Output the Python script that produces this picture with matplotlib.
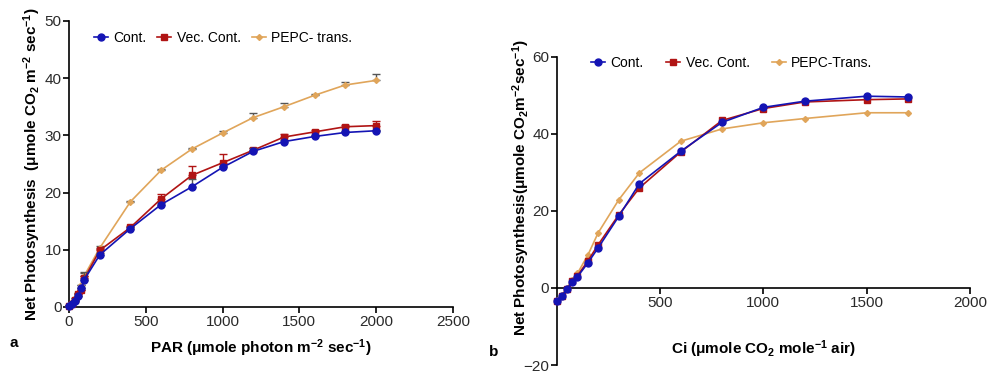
import matplotlib
matplotlib.use('Agg')
import matplotlib.pyplot as plt

plt.rcParams['font.family'] = ['Liberation Sans', 'DejaVu Sans']
plt.rcParams['mathtext.fontset'] = 'custom'
plt.rcParams['mathtext.rm'] = 'Liberation Sans'
plt.rcParams['mathtext.bf'] = 'Liberation Sans:bold'
plt.rcParams['mathtext.default'] = 'bf'

# Panel a: light response (PAR)
par = [0, 20, 40, 60, 80, 100, 200, 400, 600, 800, 1000, 1200, 1400, 1600, 1800, 2000]
a_cont = [0.2, 0.5, 1.0, 2.0, 3.3, 4.8, 9.1, 13.7, 17.9, 21.0, 24.4, 27.2, 28.9, 29.8, 30.5, 30.8]
a_vec = [0.2, 0.6, 1.2, 2.3, 3.0, 5.0, 9.9, 13.9, 18.9, 23.0, 25.2, 27.4, 29.7, 30.6, 31.5, 31.7]
a_pepc = [0.3, 0.8, 1.5, 2.5, 3.8, 5.5, 10.3, 18.4, 23.9, 27.6, 30.4, 33.1, 35.0, 37.0, 38.8, 39.6]
a_cont_err = [0, 0, 0, 0, 0, 1.3, 0.3, 0.2, 0.3, 1.4, 0.3, 0.6, 0.3, 0.2, 0.2, 0.2]
a_vec_err = [0, 0, 0, 0, 0, 0.4, 0.3, 0.3, 0.9, 1.6, 1.5, 0.4, 0.6, 0.4, 0.3, 0.8]
a_pepc_err = [0, 0, 0, 0, 0, 0.5, 0.3, 0.2, 0.2, 0.2, 0.4, 0.8, 0.6, 0.2, 0.5, 1.2]

# Panel b: CO2 response (Ci)
ci = [0, 25, 50, 75, 100, 150, 200, 300, 400, 600, 800, 1000, 1200, 1500, 1700]
b_cont = [-3.5, -2.0, -0.3, 1.5, 2.9, 6.5, 10.4, 18.6, 27.1, 35.5, 43.0, 46.9, 48.5, 49.8, 49.6]
b_vec = [-3.5, -2.0, -0.2, 1.8, 3.2, 7.0, 11.2, 19.0, 26.0, 35.3, 43.5, 46.6, 48.3, 48.9, 49.1]
b_pepc = [-3.0, -1.8, 0.0, 2.0, 3.8, 8.5, 14.3, 22.9, 29.9, 38.1, 41.3, 42.9, 44.0, 45.5, 45.5]

blue = '#1414b4'
red = '#b01414'
tan = '#e0a55a'
tick_col = '#2a2a2a'

fig = plt.figure(figsize=(9.89, 3.73), dpi=100)
ax1 = fig.add_axes([0.0698, 0.177, 0.388, 0.767])
ax2 = fig.add_axes([0.563, 0.0214, 0.4176, 0.826])


def style(ax):
    for s in ['top', 'right']:
        ax.spines[s].set_visible(False)
    for s in ['left', 'bottom']:
        ax.spines[s].set_linewidth(1.2)
    ax.tick_params(width=1.2, length=4, pad=1.5, labelsize=11, labelcolor=tick_col)


# panel a
ax1.errorbar(par, a_pepc, yerr=[[0] * len(a_pepc_err), a_pepc_err], color=tan, ecolor='#555555',
             marker='D', ms=3, lw=1.2, capsize=3, elinewidth=1, label='PEPC- trans.', clip_on=False, zorder=3)
ax1.errorbar(par, a_vec, yerr=[[0] * len(a_vec_err), a_vec_err], color=red, ecolor=red,
             marker='s', ms=5, lw=1.2, capsize=3, elinewidth=1, label='Vec. Cont.', clip_on=False, zorder=4)
ax1.errorbar(par, a_cont, yerr=[[0] * len(a_cont_err), a_cont_err], color=blue, ecolor='#555555',
             marker='o', ms=5, lw=1.2, capsize=3, elinewidth=1, label='Cont.', clip_on=False, zorder=5)
ax1.set_xlim(0, 2500)
ax1.set_ylim(0, 50)
ax1.set_xticks([0, 500, 1000, 1500, 2000, 2500])
ax1.set_yticks([0, 10, 20, 30, 40, 50])
style(ax1)
ax1.set_xlabel('PAR (μmole photon m$^{-2}$ sec$^{-1}$)', fontsize=11, fontweight='bold')
ax1.xaxis.set_label_coords(0.5, -0.105)
ax1.set_ylabel('Net Photosynthesis  (μmole CO$_2$ m$^{-2}$ sec$^{-1}$)', fontsize=11, fontweight='bold')
ax1.yaxis.set_label_coords(-0.067, 0.5)
h, l = ax1.get_legend_handles_labels()
order = [2, 1, 0]
ax1.legend([h[i][0] for i in order], [l[i] for i in order], ncol=3, frameon=False, loc='upper left',
           bbox_to_anchor=(0.05, 0.985), fontsize=10, handlelength=1.0, handletextpad=0.4,
           columnspacing=0.8, borderaxespad=0)

# panel b
ax2.plot(ci, b_pepc, color=tan, marker='D', ms=3, lw=1.2, label='PEPC-Trans.', clip_on=False, zorder=3)
ax2.plot(ci, b_vec, color=red, marker='s', ms=5, lw=1.2, label='Vec. Cont.', clip_on=False, zorder=4)
ax2.plot(ci, b_cont, color=blue, marker='o', ms=5, lw=1.2, label='Cont.', clip_on=False, zorder=5)
ax2.set_xlim(0, 2000)
ax2.set_ylim(-20, 60)
ax2.set_xticks([500, 1000, 1500, 2000])
ax2.set_yticks([-20, 0, 20, 40, 60])
style(ax2)
ax2.spines['bottom'].set_position(('data', 0))
ax2.set_xlabel('Ci (μmole CO$_2$ mole$^{-1}$ air)', fontsize=11, fontweight='bold')
ax2.xaxis.set_label_coords(0.5, 0.085)
ax2.set_ylabel('Net Photosynthesis(μmole CO$_2$m$^{-2}$sec$^{-1}$)', fontsize=11, fontweight='bold')
ax2.yaxis.set_label_coords(-0.06, 0.575)
h, l = ax2.get_legend_handles_labels()
ax2.legend([h[i] for i in order], [l[i] for i in order], ncol=3, frameon=False, loc='upper left',
           bbox_to_anchor=(0.07, 1.02), fontsize=10, handlelength=1.0, handletextpad=0.4,
           columnspacing=1.6, borderaxespad=0)

fig.text(10 / 989, 1 - 343 / 373, 'a', fontsize=11, fontweight='bold', va='center')
fig.text(489 / 989, 1 - 352 / 373, 'b', fontsize=11, fontweight='bold', va='center')

fig.savefig('out.png', dpi=100)
